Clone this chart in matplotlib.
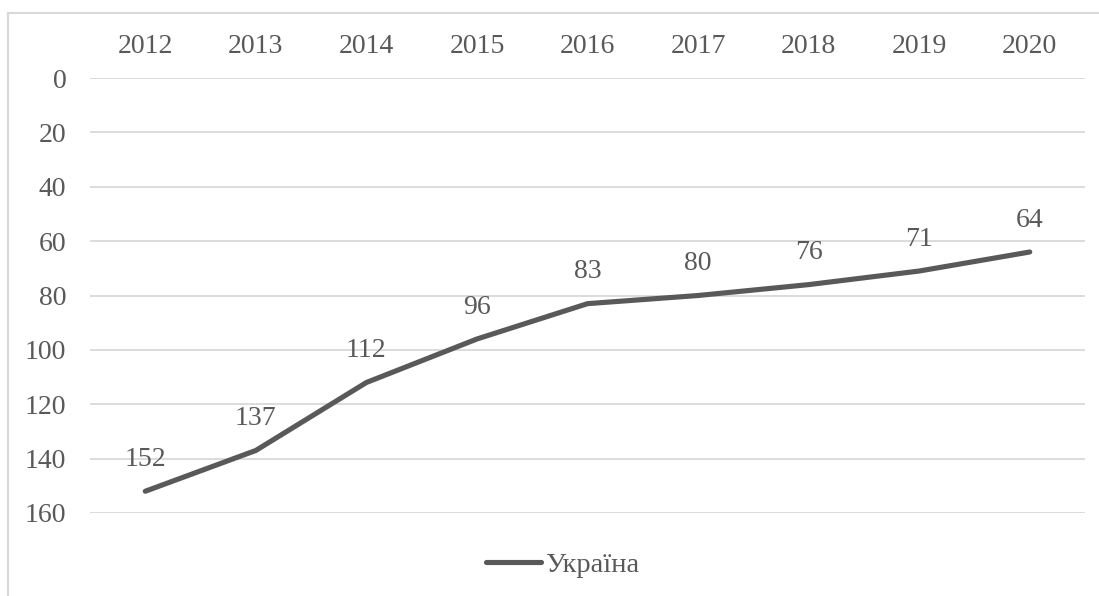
import numpy as np
import matplotlib as mpl
mpl.use('Agg')
import matplotlib.pyplot as plt
from matplotlib.lines import Line2D

mpl.rc('font', family='Liberation Serif', size=20)

years = ['2012', '2013', '2014', '2015', '2016', '2017', '2018', '2019', '2020']
values = [152, 137, 112, 96, 83, 80, 76, 71, 64]
series_name = 'Україна'

txt = '#595959'
grid = '#d9d9d9'

fig = plt.figure(figsize=(10.99, 5.96), dpi=100)
ax = fig.add_axes([90/1099, 1-513/596, 995/1099, 435/596])

x = np.arange(len(years))
ax.plot(x, values, color='#595959', lw=3.7, solid_capstyle='round',
        solid_joinstyle='round', label=series_name, zorder=3)
for xi, v in zip(x, values):
    ax.annotate(str(v), (xi, v), xytext=(0, 14), textcoords='offset points',
                ha='center', va='bottom', color=txt, fontsize=20)

ax.set_xlim(-0.5, len(years) - 0.5)
ax.set_ylim(160, 0)
ax.set_yticks(range(0, 161, 20))
ax.set_xticks(x)
ax.set_xticklabels(years)
ax.xaxis.tick_top()
ax.tick_params(axis='x', length=0, pad=14, colors=txt)
ax.tick_params(axis='y', length=0, pad=17, colors=txt)
ax.grid(axis='y', color=grid, lw=1.3)
ax.set_axisbelow(True)
for s in ax.spines.values():
    s.set_visible(False)

leg = fig.legend(loc='center', bbox_to_anchor=(0.512, 1-565/596), frameon=False,
                 handlelength=1.9, handletextpad=0.15, fontsize=20.5)
for t in leg.get_texts():
    t.set_color(txt)

# chart frame (top and left edges)
fig.add_artist(Line2D([8/1099, 1], [1-13/596, 1-13/596], color=grid, lw=1.5))
fig.add_artist(Line2D([8/1099, 8/1099], [0, 1-13/596], color=grid, lw=1.5))

plt.savefig('out.png', dpi=100)
